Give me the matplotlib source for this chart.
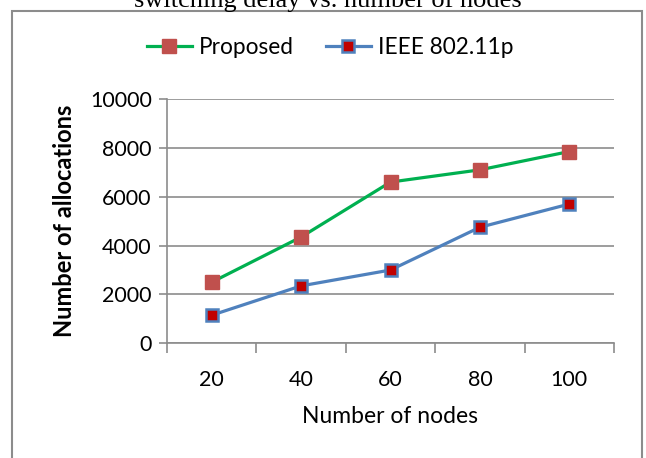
import matplotlib.pyplot as plt
from matplotlib.patches import Rectangle

nodes = ['20', '40', '60', '80', '100']
proposed = [2500, 4350, 6600, 7100, 7850]
ieee = [1150, 2350, 3000, 4750, 5700]
y_ticks = [0, 2000, 4000, 6000, 8000, 10000]

plt.rcParams['font.family'] = ['Lato', 'DejaVu Sans']

W, H = 646, 458
fig = plt.figure(figsize=(W / 100, H / 100), dpi=100)
fig.patch.set_facecolor('white')

# chart frame (bottom edge runs off the page)
fig.patches.append(Rectangle((12 / W, -0.05), (642 - 12) / W, 1.05 - 11 / H,
                             transform=fig.transFigure, fill=False,
                             edgecolor='#8c8c8c', linewidth=1.5))

# caption of the figure above, clipped at the top
fig.text(328 / W, 1 - 1 / H, 'switching delay vs. number of nodes',
         family='Liberation Serif', fontsize=19, ha='center', va='center')

ax = fig.add_axes([167 / W, 1 - 343.3 / H, (614 - 167) / W, (343.3 - 99) / H])
x = list(range(len(nodes)))

ax.plot(x, proposed, color='#00B050', linewidth=2.3, marker='s', markersize=10,
        markerfacecolor='#C0504D', markeredgecolor='#C0504D', label='Proposed')
ax.plot(x, ieee, color='#4F81BD', linewidth=2.3, marker='s', markersize=9,
        markerfacecolor='#C00000', markeredgecolor='#4F81BD', markeredgewidth=1.8,
        label='IEEE 802.11p')

ax.set_xlim(-0.5, len(nodes) - 0.5)
ax.set_ylim(0, 10000)
ax.set_yticks(y_ticks)
ax.set_yticklabels([str(v) for v in y_ticks], fontsize=15.5)
ax.set_xticks(x)
ax.set_xticklabels(nodes, fontsize=15.5)
ax.set_xticks([i - 0.5 for i in range(len(nodes) + 1)], minor=True)
ax.tick_params(axis='x', which='major', length=0, pad=19)
ax.tick_params(axis='x', which='minor', length=7, color='#8c8c8c', width=1.2)
ax.tick_params(axis='y', length=6, color='#8c8c8c', width=1.2, pad=5)

ax.grid(axis='y', color='#8c8c8c', linewidth=1.2)
ax.set_axisbelow(True)
for side in ['top', 'right']:
    ax.spines[side].set_visible(False)
for side in ['left', 'bottom']:
    ax.spines[side].set_color('#8c8c8c')
    ax.spines[side].set_linewidth(1.2)

ax.set_xlabel('Number of nodes', fontsize=16.5, labelpad=12)
ax.set_ylabel('Number of allocations', fontsize=17, fontweight='bold', labelpad=10)

fig.legend(loc='center', bbox_to_anchor=(330 / W, 1 - 47 / H), ncol=2,
           frameon=False, fontsize=16.3, handlelength=2.0, columnspacing=1.4,
           handletextpad=0.3)

plt.savefig('out.png', dpi=100, facecolor='white')
